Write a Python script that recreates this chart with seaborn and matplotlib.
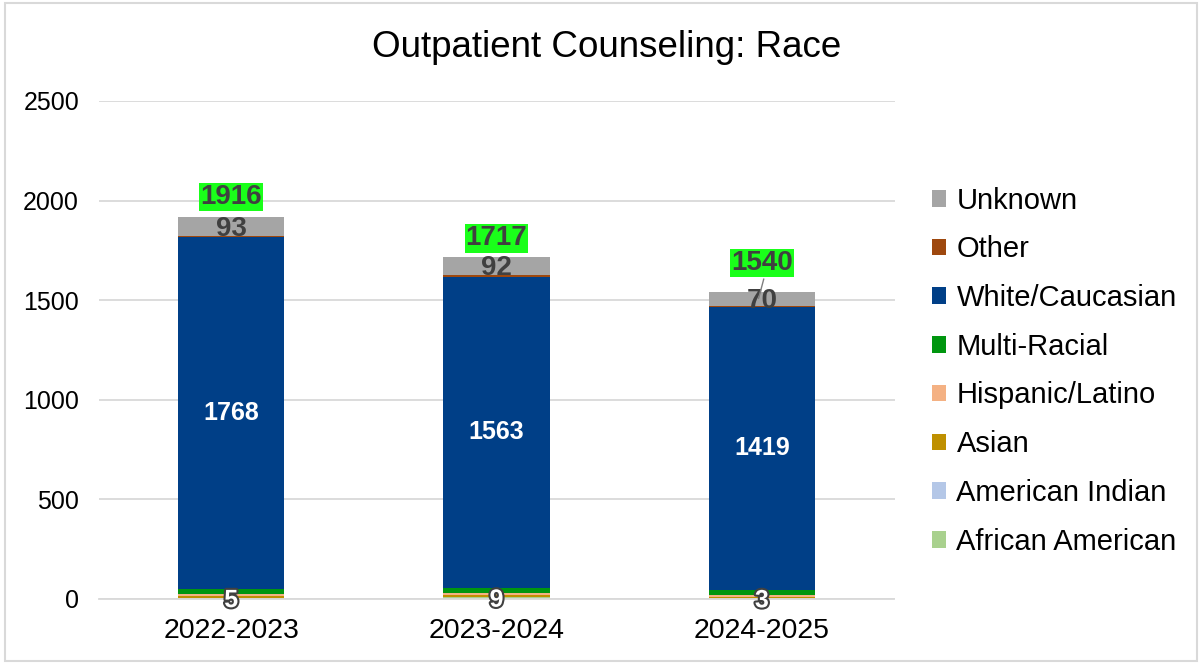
import numpy as np
import pandas as pd
import seaborn as sns
from matplotlib import pyplot as plt
from matplotlib.patches import Rectangle, Patch
from matplotlib import patheffects as pe

years = ['2022-2023', '2023-2024', '2024-2025']
groups = ['African American', 'American Indian', 'Asian', 'Hispanic/Latino',
          'Multi-Racial', 'White/Caucasian', 'Other', 'Unknown']
african_american = [5, 9, 3]
american_indian = [2, 2, 2]
asian = [6, 8, 7]
hispanic = [10, 12, 10]
multi_racial = [25, 24, 25]
white = [1768, 1563, 1419]
other = [7, 7, 4]
unknown = [93, 92, 70]
totals = [1916, 1717, 1540]

colors = ['#a9d18e', '#b4c7e7', '#bf9000', '#f4b183',
          '#00960f', '#003f87', '#9e480e', '#a5a5a5']

values = [african_american, american_indian, asian, hispanic,
          multi_racial, white, other, unknown]

sns.set_style('white')
plt.rcParams['font.family'] = ['Liberation Sans', 'DejaVu Sans']
plt.rcParams['text.color'] = 'black'
plt.rcParams['xtick.color'] = 'black'
plt.rcParams['ytick.color'] = 'black'

fig = plt.figure(figsize=(12.02, 6.64), dpi=100)
ax = fig.add_axes([98.5 / 1202, 1 - 599 / 664, 796 / 1202, 498 / 664])

bottom = np.zeros(3)
for name, vals, col in zip(groups, values, colors):
    df = pd.DataFrame({'year': years, 'n': vals})
    sns.barplot(data=df, x='year', y='n', color=col, bottom=bottom,
                width=0.4, errorbar=None, saturation=1, ax=ax,
                edgecolor='none', linewidth=0)
    bottom = bottom + np.array(vals)

ax.set_ylim(0, 2500)
ax.set_xlim(-0.5, 2.5)
ax.set_yticks([0, 500, 1000, 1500, 2000, 2500])
ax.yaxis.grid(True, color='#d9d9d9', linewidth=1.3)
ax.set_axisbelow(True)
for s in ['top', 'right', 'left']:
    ax.spines[s].set_visible(False)
ax.spines['bottom'].set_color('#d9d9d9')
ax.spines['bottom'].set_linewidth(1.3)
ax.tick_params(axis='y', labelsize=18, length=0, pad=14)
ax.tick_params(axis='x', labelsize=20.5, length=0, pad=14)
ax.set_xlabel('')
ax.set_ylabel('')

# data labels
lift = [104, 93, 145]
for i in range(3):
    ax.text(i, african_american[i] / 2 - 8, str(african_american[i]),
            ha='center', va='center', fontsize=18, fontweight='bold',
            color='white',
            path_effects=[pe.withStroke(linewidth=3, foreground='#404040')])
    wb = sum(v[i] for v in values[:5])
    ax.text(i, wb + white[i] / 2, str(white[i]), ha='center', va='center',
            fontsize=18, fontweight='bold', color='white')
    ub = totals[i] - unknown[i]
    ax.text(i, ub + unknown[i] / 2 - 10, str(unknown[i]), ha='center',
            va='center', fontsize=20, fontweight='bold', color='#404040')
    ax.text(i, totals[i] + lift[i], str(totals[i]), ha='center', va='center',
            fontsize=20, fontweight='bold', color='#404040',
            bbox=dict(boxstyle='square,pad=0.04', facecolor='#1aff1a',
                      edgecolor='none'))

# leader line for the last total label
ax.annotate('', xy=(1.985, totals[2] - 45), xytext=(2.01, totals[2] + 80),
            arrowprops=dict(arrowstyle='-', color='#7f7f7f', lw=1))

fig.text(0.505, 0.928, 'Outpatient Counseling: Race', ha='center',
         va='center', fontsize=26.5)

handles = [Patch(facecolor=c, edgecolor='none') for c in colors][::-1]
fig.legend(handles, groups[::-1], loc='upper left',
           bbox_to_anchor=(920 / 1202, 1 - 175 / 664), frameon=False,
           fontsize=21, handlelength=0.5, handleheight=0.5,
           handletextpad=0.35, labelspacing=0.71, borderaxespad=0)

fig.patches.append(Rectangle((0.004, 0.004), 0.992, 0.992,
                             transform=fig.transFigure, fill=False,
                             edgecolor='#d9d9d9', linewidth=1.5))

fig.savefig('out.png', dpi=100)
